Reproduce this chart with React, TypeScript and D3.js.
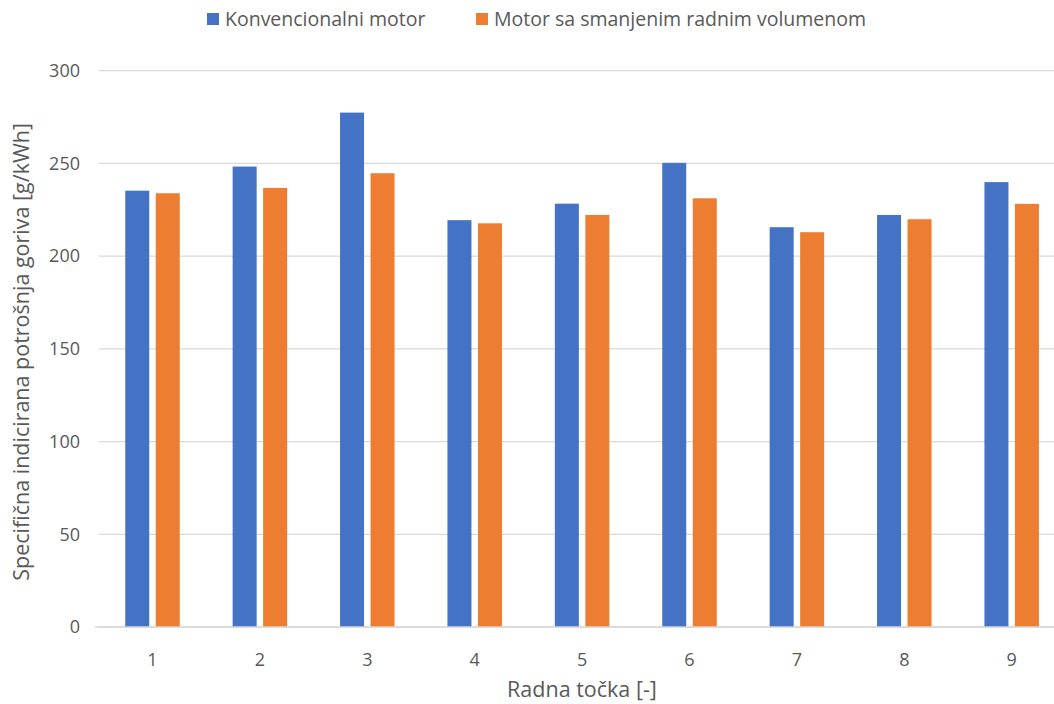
import React from "react";
import * as d3 from "d3";

const categories = ["1", "2", "3", "4", "5", "6", "7", "8", "9"];
const seriesNames = ["Konvencionalni motor", "Motor sa smanjenim radnim volumenom"];
const konvencionalni = [235.3, 248.3, 277.4, 219.4, 228.3, 250.3, 215.6, 222.2, 239.9];
const smanjeni = [233.9, 236.8, 244.7, 217.7, 222.2, 231.2, 212.9, 219.9, 228.2];
const yTicks = [0, 50, 100, 150, 200, 250, 300];
const colors = ["#4472C4", "#ED7D31"];

const W = 1054;
const H = 704;
const plotLeft = 98.8;
const plotRight = 1065.4;
const plotTop = 70.7;
const plotBottom = 627;
const font = "'Open Sans', sans-serif";
const textColor = "#595959";

export default function App() {
  const x = d3.scaleBand<string>().domain(categories).range([plotLeft, plotRight]).paddingInner(0).paddingOuter(0);
  const inner = d3.scaleBand<string>().domain(seriesNames).range([0, x.bandwidth()]).paddingInner(0.213).paddingOuter(0.867);
  const y = d3.scaleLinear().domain([0, 300]).range([plotBottom, plotTop]);
  const values = [konvencionalni, smanjeni];

  return (
    <svg width={W} height={H} style={{ position: "absolute", left: 0, top: 0, background: "#fff" }}>
      <rect x={0} y={0} width={W} height={H} fill="#fff" />
      {yTicks.map((t) => (
        <g key={t}>
          <line x1={plotLeft} x2={W} y1={y(t)} y2={y(t)} stroke="#d9d9d9" strokeWidth={1.3} />
          <text x={80} y={y(t)} dy="0.35em" textAnchor="end" fontFamily={font} fontSize={18} fill={textColor}>
            {t}
          </text>
        </g>
      ))}
      {values.map((vals, si) =>
        vals.map((v, i) => (
          <rect
            key={`${si}-${i}`}
            x={(x(categories[i]) as number) + (inner(seriesNames[si]) as number)}
            y={y(v)}
            width={inner.bandwidth()}
            height={y(0) - y(v)}
            fill={colors[si]}
          />
        ))
      )}
      <line x1={plotLeft - 4} x2={W} y1={y(0)} y2={y(0)} stroke="#d9d9d9" strokeWidth={1.5} />
      {categories.map((c) => (
        <text key={c} x={(x(c) as number) + x.bandwidth() / 2} y={660} dy="0.35em" textAnchor="middle" fontFamily={font} fontSize={18} fill={textColor}>
          {c}
        </text>
      ))}
      <text x={582} y={689} dy="0.35em" textAnchor="middle" fontFamily={font} fontSize={21.5} fill={textColor}>
        Radna točka [-]
      </text>
      <text
        transform={`translate(21, ${(plotTop + plotBottom) / 2 + 3}) rotate(-90)`}
        textAnchor="middle"
        dy="0.35em"
        fontFamily={font}
        fontSize={21.5}
        fill={textColor}
      >
        Specifična indicirana potrošnja goriva [g/kWh]
      </text>
      <g>
        <rect x={207} y={13} width={12} height={12} fill={colors[0]} />
        <text x={225} y={19} dy="0.35em" fontFamily={font} fontSize={19.5} fill={textColor}>
          {seriesNames[0]}
        </text>
        <rect x={476} y={13} width={12} height={12} fill={colors[1]} />
        <text x={494} y={19} dy="0.35em" fontFamily={font} fontSize={19.5} fill={textColor}>
          {seriesNames[1]}
        </text>
      </g>
    </svg>
  );
}
